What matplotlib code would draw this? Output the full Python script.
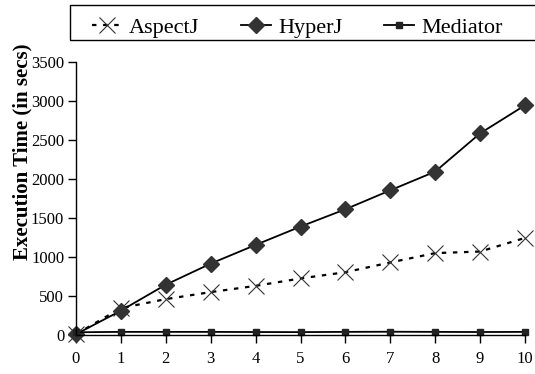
import matplotlib.pyplot as plt
from matplotlib.patches import Rectangle

# data
runs = [0, 1, 2, 3, 4, 5, 6, 7, 8, 9, 10]
aspectj = [10, 345, 460, 550, 630, 725, 805, 930, 1050, 1070, 1245]
hyperj = [10, 312, 645, 915, 1155, 1390, 1612, 1855, 2095, 2585, 2945]
mediator = [35, 40, 40, 40, 38, 37, 40, 42, 40, 38, 40]

plt.rcParams['font.family'] = ['Liberation Serif', 'DejaVu Serif']

fig = plt.figure(figsize=(5.35, 3.74), dpi=100)
ax = fig.add_axes([76 / 535, 1 - 335 / 374, 449 / 535, 273 / 374])

ax.plot(runs, aspectj, linestyle=(0, (2, 3)), color='black', linewidth=1.6,
        marker='x', markersize=11, markeredgewidth=0.8, markeredgecolor='#333333',
        label='AspectJ')
ax.plot(runs, hyperj, linestyle='-', color='black', linewidth=1.3,
        marker='D', markersize=8.5, markerfacecolor='#333333', markeredgecolor='#333333',
        label='HyperJ')
ax.plot(runs, mediator, linestyle='-', color='black', linewidth=1.3,
        marker='s', markersize=4, markerfacecolor='#222222', markeredgecolor='#222222',
        label='Mediator')

ax.set_xlim(0, 10)
ax.set_ylim(0, 3500)
ax.set_xticks(runs)
ax.set_yticks(range(0, 3501, 500))
ax.tick_params(axis='both', direction='out', length=5.5, labelsize=12, width=1)
ax.tick_params(axis='x', pad=6)
ax.tick_params(axis='y', pad=3)
for s in ['top', 'right']:
    ax.spines[s].set_visible(False)
for s in ['left', 'bottom']:
    ax.spines[s].set_linewidth(1.0)
for line in ax.lines:
    line.set_clip_on(False)

ax.set_ylabel('Execution Time (in secs)', fontsize=15, fontweight='bold')
ax.yaxis.set_label_coords(-0.098, 0.67)

# legend frame runs off the right edge in the reference
fig.patches.append(Rectangle((70 / 535, 1 - 40 / 374), 0.95, 35 / 374,
                             transform=fig.transFigure, fill=False,
                             edgecolor='black', linewidth=1.0))
fig.legend(loc='center left', bbox_to_anchor=(92 / 535, 1 - 28 / 374),
           ncol=3, frameon=False, fontsize=16, handlelength=1.35,
           handletextpad=0.3, columnspacing=1.9, borderaxespad=0, borderpad=0)

fig.savefig('out.png', dpi=100)
